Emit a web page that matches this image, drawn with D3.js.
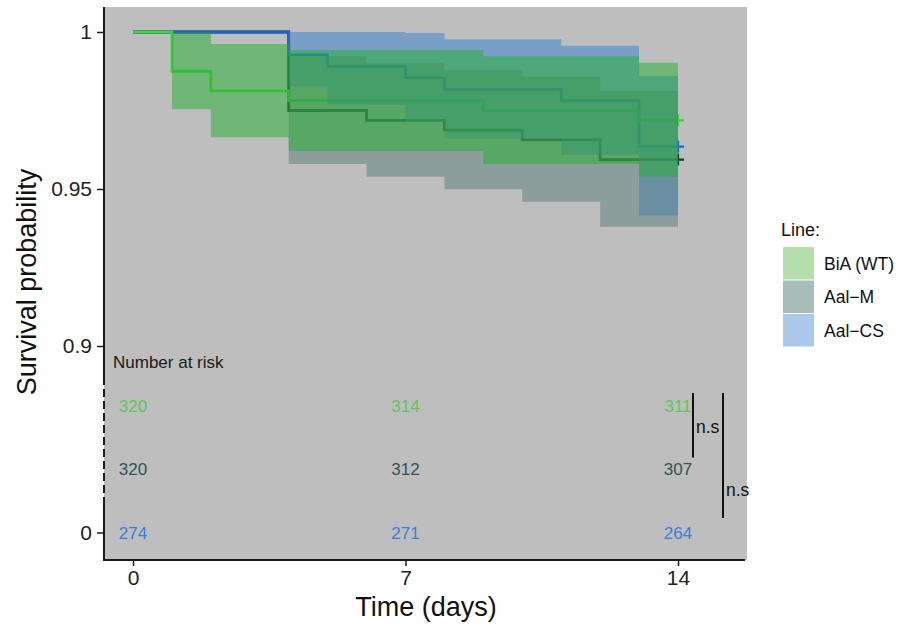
<!DOCTYPE html>
<html>
<head>
<meta charset="utf-8">
<script src="https://cdn.jsdelivr.net/npm/d3@7"></script>
<style>
  html, body { margin: 0; padding: 0; background: #ffffff; }
  svg { display: block; }
  text { font-family: "Liberation Sans", Arial, Helvetica, sans-serif; }
</style>
</head>
<body>
<svg id="chart" width="912" height="633"></svg>
<script>
// ---------------- data ----------------
const seriesNames = ["BiA (WT)", "Aal\u2212M", "Aal\u2212CS"];
const endTime = 14;

const bia_time  = [0, 1, 2, 4, 9, 13];
const bia_surv  = [1, 0.9875, 0.98125, 0.97813, 0.975, 0.97188];
const bia_upper = [1, 0.9998, 0.9962, 0.9943, 0.9923, 0.9902];
const bia_lower = [1, 0.9754, 0.9665, 0.9622, 0.9580, 0.9539];

const aalm_time  = [0, 4, 6, 8, 10, 12];
const aalm_surv  = [1, 0.975, 0.97188, 0.96875, 0.96563, 0.95938];
const aalm_upper = [1, 0.9923, 0.9902, 0.9880, 0.9858, 0.9813];
const aalm_lower = [1, 0.9580, 0.9539, 0.9499, 0.9459, 0.9380];

const aalcs_time  = [0, 4, 5, 7, 8, 11, 13];
const aalcs_surv  = [1, 0.9927, 0.98905, 0.9854, 0.98175, 0.9781, 0.9635];
const aalcs_upper = [1, 1, 1, 0.9997, 0.9977, 0.9956, 0.9860];
const aalcs_lower = [1, 0.9827, 0.9768, 0.9713, 0.9660, 0.9609, 0.9416];

const riskTimes  = [0, 7, 14];
const risk_bia   = [320, 314, 311];
const risk_aalm  = [320, 312, 307];
const risk_aalcs = [274, 271, 264];

const xTickValues = [0, 7, 14];
const yTickValues = [1, 0.95, 0.9];
const sigLabels = ["n.s", "n.s"];

// ---------------- styles ----------------
const lineColors   = ["#3fd03f", "#143a2c", "#2563cc"];
const ribbonColors = ["#22b030", "#5a7e78", "#3682d2"];
const keyColors    = ["#b4dfaa", "#a8bdb8", "#aac9ea"];
const riskColors   = ["#5fc45f", "#2f5555", "#3a7fd5"];

const panel = { left: 104, right: 747, top: 7, bottom: 560 };

const svg = d3.select("#chart");

const x = d3.scaleLinear().domain([0, 14]).range([133, 678]);
const y = d3.scaleLinear().domain([0.9, 1]).range([346, 32]);
const riskRow = d3.scalePoint().domain(seriesNames).range([406, 533]);

function makeSeries(t, s, u, l) {
  const pts = t.map((d, i) => ({ t: d, s: s[i], u: u[i], l: l[i] }));
  const last = pts[pts.length - 1];
  pts.push({ t: endTime, s: last.s, u: last.u, l: last.l });
  return pts;
}
const series = [
  makeSeries(bia_time, bia_surv, bia_upper, bia_lower),
  makeSeries(aalm_time, aalm_surv, aalm_upper, aalm_lower),
  makeSeries(aalcs_time, aalcs_surv, aalcs_upper, aalcs_lower)
];
const riskData = [risk_bia, risk_aalm, risk_aalcs];

// panel background
svg.append("rect")
  .attr("x", panel.left).attr("y", panel.top)
  .attr("width", panel.right - panel.left).attr("height", panel.bottom - panel.top)
  .attr("fill", "#bebebe");

const line = d3.line().curve(d3.curveStepAfter).x(d => x(d.t)).y(d => y(d.s));
const area = d3.area().curve(d3.curveStepAfter).x(d => x(d.t)).y0(d => y(d.l)).y1(d => y(d.u));

// lines (drawn beneath ribbons), order: Aal-M, Aal-CS, BiA
const drawOrder = [1, 2, 0];
drawOrder.forEach(i => {
  svg.append("path").datum(series[i])
    .attr("d", line)
    .attr("fill", "none")
    .attr("stroke", lineColors[i])
    .attr("stroke-width", 2.8);
});

// censor "+" markers at end
drawOrder.forEach(i => {
  const last = series[i][series[i].length - 1];
  const cx = x(last.t), cy = y(last.s);
  svg.append("path")
    .attr("d", `M${cx - 6},${cy}H${cx + 6}M${cx},${cy - 6}V${cy + 6}`)
    .attr("stroke", lineColors[i])
    .attr("stroke-width", 2.2)
    .attr("fill", "none");
});

// ribbons: Aal-CS, Aal-M, then BiA on top
[2, 1, 0].forEach(i => {
  svg.append("path").datum(series[i])
    .attr("d", area)
    .attr("fill", ribbonColors[i])
    .attr("fill-opacity", 0.5)
    .attr("stroke", "none");
});

// ---------------- axes ----------------
const axisColor = "#1a1a1a";
svg.append("line").attr("x1", panel.left).attr("x2", panel.left)
  .attr("y1", panel.top).attr("y2", 377)
  .attr("stroke", axisColor).attr("stroke-width", 2);
svg.append("line").attr("x1", panel.left).attr("x2", panel.left)
  .attr("y1", 377).attr("y2", 502)
  .attr("stroke", axisColor).attr("stroke-width", 2)
  .attr("stroke-dasharray", "8,4");
svg.append("line").attr("x1", panel.left).attr("x2", panel.left)
  .attr("y1", 502).attr("y2", panel.bottom + 1)
  .attr("stroke", axisColor).attr("stroke-width", 2);

const yAxis = d3.axisLeft(y).tickValues(yTickValues).tickFormat(d3.format("")).tickSize(6).tickPadding(5);
const gy = svg.append("g").attr("transform", `translate(${panel.left - 1},0)`).call(yAxis);
gy.select(".domain").remove();
gy.selectAll(".tick line").attr("stroke", axisColor).attr("stroke-width", 1.5);
gy.selectAll(".tick text").attr("fill", "#222").style("font-size", "21px")
  .style("font-family", "'Liberation Sans', Arial, sans-serif");

const zeroY = riskRow(seriesNames[2]);
svg.append("line").attr("x1", panel.left - 7).attr("x2", panel.left)
  .attr("y1", zeroY).attr("y2", zeroY)
  .attr("stroke", axisColor).attr("stroke-width", 1.5);
svg.append("text").attr("x", panel.left - 12).attr("y", zeroY)
  .attr("text-anchor", "end").attr("dy", "0.35em")
  .attr("fill", "#222").style("font-size", "21px").text("0");

const xAxis = d3.axisBottom(x).tickValues(xTickValues).tickSize(6).tickPadding(4);
const gx = svg.append("g").attr("transform", `translate(0,${panel.bottom})`).call(xAxis);
gx.select(".domain").remove();
gx.selectAll(".tick line").attr("stroke", axisColor).attr("stroke-width", 1.5);
gx.selectAll(".tick text").attr("fill", "#222").style("font-size", "21px")
  .style("font-family", "'Liberation Sans', Arial, sans-serif");
svg.append("line").attr("x1", panel.left - 1).attr("x2", panel.right - 2)
  .attr("y1", panel.bottom).attr("y2", panel.bottom)
  .attr("stroke", axisColor).attr("stroke-width", 2);

svg.append("text").attr("x", 426).attr("y", 616)
  .attr("text-anchor", "middle").attr("fill", "#111")
  .style("font-size", "27px").text("Time (days)");
svg.append("text")
  .attr("transform", `translate(36,282) rotate(-90)`)
  .attr("text-anchor", "middle").attr("fill", "#111")
  .style("font-size", "27px").text("Survival probability");

// ---------------- risk table ----------------
svg.append("text").attr("x", 113).attr("y", 362)
  .attr("dy", "0.35em").attr("fill", "#1a1a1a")
  .style("font-size", "17px").text("Number at risk");

seriesNames.forEach((name, i) => {
  riskTimes.forEach((t, j) => {
    svg.append("text")
      .attr("x", x(t)).attr("y", riskRow(name))
      .attr("dy", "0.35em").attr("text-anchor", "middle")
      .attr("fill", riskColors[i])
      .style("font-size", "17px")
      .text(riskData[i][j]);
  });
});

// significance brackets
const sig = [
  { x: 693, y1: riskRow(seriesNames[0]) - 13, y2: riskRow(seriesNames[1]) - 12,
    ly: riskRow(seriesNames[0]) + 21, label: sigLabels[0] },
  { x: 723, y1: riskRow(seriesNames[0]) - 13, y2: riskRow(seriesNames[2]) - 15,
    ly: riskRow(seriesNames[1]) + 20, label: sigLabels[1] }
];
sig.forEach(s => {
  svg.append("line").attr("x1", s.x).attr("x2", s.x).attr("y1", s.y1).attr("y2", s.y2)
    .attr("stroke", "#111").attr("stroke-width", 2);
  svg.append("text").attr("x", s.x + 3).attr("y", s.ly)
    .attr("dy", "0.35em").attr("fill", "#111")
    .style("font-size", "17.5px").text(s.label);
});

// ---------------- legend ----------------
const lg = svg.append("g");
lg.append("text").attr("x", 781).attr("y", 236).attr("fill", "#111")
  .style("font-size", "18px").text("Line:");
const keyH = 33.5, keyTop = 247;
seriesNames.forEach((name, i) => {
  lg.append("rect").attr("x", 783).attr("y", keyTop + i * keyH)
    .attr("width", 31).attr("height", keyH - 1)
    .attr("fill", keyColors[i]);
  lg.append("text").attr("x", 824).attr("y", keyTop + i * keyH + keyH / 2)
    .attr("dy", "0.35em").attr("fill", "#111")
    .style("font-size", "17.5px").text(name);
});
</script>
</body>
</html>
